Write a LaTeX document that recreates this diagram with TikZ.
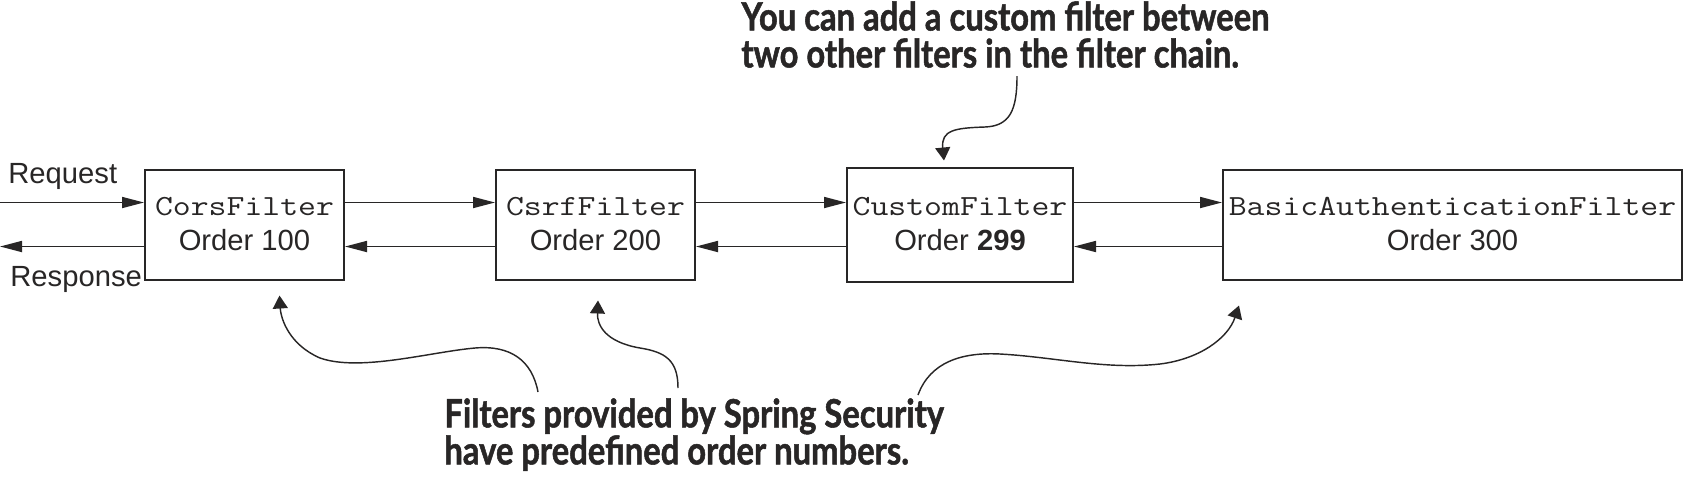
\documentclass[tikz,border=0pt]{standalone}
\usepackage{fontspec}
\setmainfont{Liberation Sans}
\setmonofont{Latin Modern Mono}[FakeStretch=1.19]
\newfontfamily\notefont{Lato}[FakeStretch=0.84, BoldFeatures={FakeBold=1.3}]
\usetikzlibrary{arrows.meta,positioning}
\definecolor{ink}{RGB}{40,38,38}

\begin{document}
\begin{tikzpicture}[x=0.5pt, y=-0.5pt, node distance=75pt, every node/.style={font=\fontsize{14.6}{17.5}\selectfont, text=ink}, box/.style={draw=ink, line width=1pt, align=center, minimum width=99.5pt, minimum height=55pt, inner sep=2pt}, label/.style={anchor=base west, inner sep=0pt}, flow/.style={-{Triangle[length=11pt,width=5.5pt]}, draw=ink, line width=0.85pt}, callout/.style={-{Triangle[length=6.5pt,width=7.5pt]}, draw=ink, line width=0.72pt}, note/.style={font=\notefont\bfseries\fontsize{19.5}{18.5}\selectfont, align=left, inner sep=0pt, anchor=north west}]
\useasboundingbox (0,0) rectangle (1685,478);
\node[box] (cors) at (244.5,224.5) {{\ttfamily CorsFilter}\\Order 100};
\node[box, right=of cors] (csrf) {{\ttfamily CsrfFilter}\\Order 200};
\node[box, right=of csrf, minimum width=113pt, minimum height=57pt] (custom) {{\ttfamily CustomFilter}\\Order \textbf{299}};
\node[box, right=74pt of custom, minimum width=229.5pt] (basic) {{\ttfamily BasicAuthenticationFilter}\\Order 300};
\node[label] (request) at (8,183) {Request};
\node[label] (response) at (10,286) {Response};
\coordinate (reqin) at (0,202.5);
\coordinate (respout) at (0,246.5);
\draw[flow] (reqin) -- ([yshift=11pt]cors.west);
\draw[flow] ([yshift=-11pt]cors.west) -- (respout);
\foreach \a/\b in {cors/csrf, csrf/custom, custom/basic} {
  \draw[flow] ([yshift=11pt]\a.east) -- ([yshift=11pt]\b.west);
  \draw[flow] ([yshift=-11pt]\b.west) -- ([yshift=-11pt]\a.east);
}
\node[note] (customnote) at (741,1) {You can add a custom filter between\\two other filters in the filter chain.};
\node[note] (springnote) at (444,398) {Filters provided by Spring Security\\have predefined order numbers.};
\coordinate (fromcustomnote) at (1017,76);
\coordinate (fromspring1) at (538,392);
\coordinate (fromspring2) at (678,388);
\coordinate (fromspring3) at (918,395);
\draw[callout] (fromcustomnote) .. controls (1017,110) and (1010,126) .. (985,127) .. controls (955,128) and (941,130) .. ([xshift=-8pt,yshift=3pt]custom.north);
\draw[callout] (fromspring1) .. controls (532,360) and (510,345) .. (475,348) .. controls (430,352) and (360,372) .. (320,358) .. controls (290,345) and (281,320) .. ([xshift=17.5pt,yshift=-7.5pt]cors.south);
\draw[callout] (fromspring2) .. controls (678,360) and (665,352) .. (640,348) .. controls (605,342) and (597,325) .. ([xshift=1.25pt,yshift=-10pt]csrf.south);
\draw[callout] (fromspring3) .. controls (930,362) and (962,352) .. (1000,354) .. controls (1055,357) and (1105,370) .. (1160,364) .. controls (1200,359) and (1228,338) .. ([xshift=8.5pt,yshift=-12.5pt]basic.south west);
\end{tikzpicture}
\end{document}
